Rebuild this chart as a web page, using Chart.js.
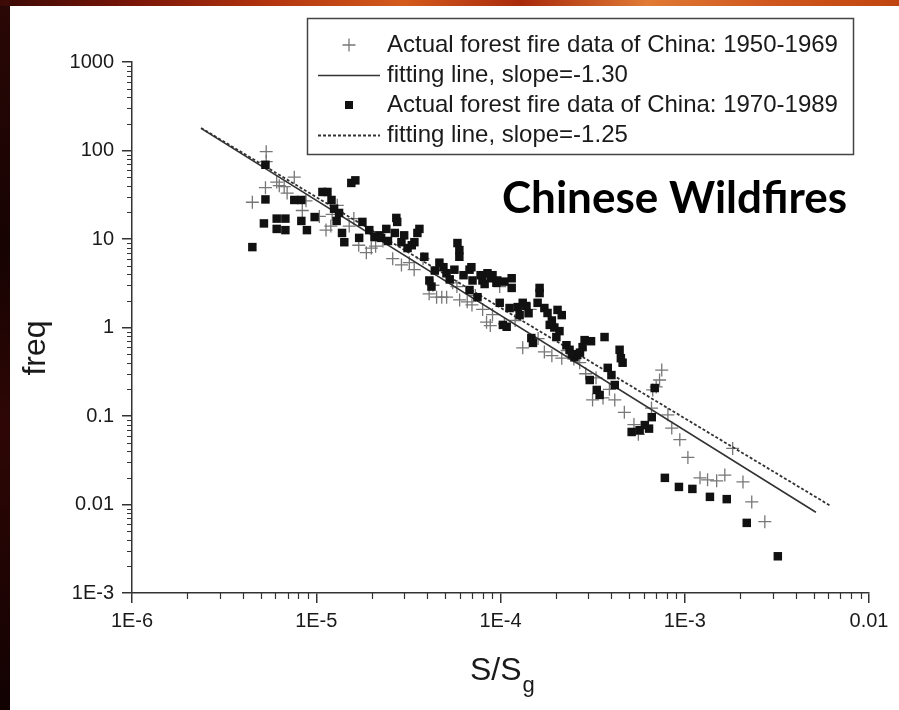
<!DOCTYPE html>
<html>
<head>
<meta charset="utf-8">
<title>Chinese Wildfires</title>
<script src="https://cdn.jsdelivr.net/npm/chart.js@4.4.0/dist/chart.umd.min.js"></script>
<style>
  html, body { margin: 0; padding: 0; }
  body {
    width: 899px; height: 710px; position: relative; overflow: hidden;
    background: linear-gradient(180deg, #2a0806 0%, #160302 35%, #2e0705 60%, #120202 100%);
  }
  #flames {
    position: absolute; left: 0; top: 0; width: 899px; height: 6px;
    background: linear-gradient(90deg, #3b0a06 0%, #7a1608 15%, #b3340f 30%, #d45a1c 45%, #a82a0c 58%, #e07a35 72%, #d0581e 85%, #c0440f 100%);
  }
  #panel { position: absolute; left: 10px; top: 6px; width: 889px; height: 704px; background: #fff; }
</style>
</head>
<body>
<div id="flames"></div>
<div id="panel"><canvas id="fireChart" width="889" height="704"></canvas></div>
<script>
const ctx = document.getElementById("fireChart");

// forest fire records 1950-1969 (drawn as crosses)
const size50to69 = [
  4.5e-6, 5.35e-6, 5.35e-6, 5.3e-6, 6.1e-6, 6.3e-6, 6.7e-6, 7.6e-6, 6.95e-6, 8.4e-6,
  8.8e-6, 1.04e-5, 1.13e-5, 1.22e-5, 1.3e-5, 1.51e-5, 1.6e-5, 1.87e-5, 1.99e-5, 2.1e-5,
  2.3e-5, 2.9e-5, 3.4e-5, 3.8e-5, 4.1e-5, 4.5e-5, 4.8e-5, 5.1e-5, 5.5e-5, 5.8e-5,
  6.0e-5, 6.6e-5, 7.3e-5, 8.0e-5, 8.4e-5, 8.8e-5, 9.9e-5, 9.05e-5, 1.05e-4, 1.32e-4,
  1.45e-4, 1.73e-4, 1.9e-4, 2.15e-4, 2.5e-4, 2.69e-4, 2.9e-4, 3.16e-4, 3.6e-4, 4.17e-4,
  4.7e-4, 5.3e-4, 5.6e-4, 6.6e-4, 6.7e-4, 7.0e-4, 7.3e-4, 7.5e-4, 8.1e-4, 8.5e-4,
  9.4e-4, 1.04e-3, 1.21e-3, 1.33e-3, 1.49e-3, 1.65e-3, 1.82e-3, 2.07e-3, 2.31e-3, 2.72e-3,
  1.2e-5, 1.7e-5, 2.6e-5, 3.2e-5, 4.3e-5, 7.0e-5, 1.2e-4, 1.6e-4, 2.3e-4, 3.3e-4, 3.9e-4
];
const freq50to69 = [
  26, 97, 75, 38, 44, 40, 39, 50, 33, 21,
  27, 18, 12.6, 19, 24, 14, 17, 7.0, 7.9, 8.3,
  9.5, 5.1, 4.5, 6.0, 2.4, 2.2, 2.2, 2.2, 3.2, 2.9,
  2.05, 1.95, 2.3, 1.6, 1.15, 1.05, 2.9, 1.4, 1.1, 0.59,
  1.6, 0.53, 0.48, 0.45, 0.44, 0.40, 0.30, 0.152, 0.16, 0.152,
  0.11, 0.08, 0.062, 0.123, 0.197, 0.213, 0.255, 0.33, 0.103, 0.073,
  0.054, 0.034, 0.020, 0.019, 0.0185, 0.0215, 0.043, 0.018, 0.0107, 0.0064,
  14, 8.5, 6.0, 5.4, 3.0, 1.8, 1.2, 0.75, 0.55, 0.27, 0.2
];

// forest fire records 1970-1989 (drawn as filled squares)
const size70to89 = [
  4.5e-6, 5.3e-6, 5.3e-6, 5.2e-6, 6.1e-6, 6.8e-6, 6.1e-6, 6.8e-6, 7.6e-6, 8.3e-6,
  8.3e-6, 8.9e-6, 9.8e-6, 1.08e-5, 1.15e-5, 1.21e-5, 1.25e-5, 1.33e-5, 1.29e-5, 1.38e-5,
  1.42e-5, 1.55e-5, 1.63e-5, 1.71e-5, 1.78e-5, 1.94e-5, 2.07e-5, 2.25e-5, 2.4e-5, 2.72e-5,
  2.75e-5, 2.67e-5, 2.9e-5, 3.13e-5, 3.41e-5, 3.54e-5, 3.63e-5, 3.86e-5, 4.11e-5, 4.22e-5,
  4.66e-5, 5.09e-5, 5.62e-5, 5.84e-5, 5.98e-5, 5.98e-5, 6.79e-5, 6.95e-5, 7.05e-5, 7.5e-5,
  7.98e-5, 8.5e-5, 8.9e-5, 9.5e-5, 6.79e-5, 9.05e-5, 9.6e-5, 1.15e-4, 1.15e-4, 9.9e-5,
  1.12e-4, 1.24e-4, 1.32e-4, 1.27e-4, 1.03e-4, 1.08e-4, 1.47e-4, 1.5e-4, 1.63e-4, 1.63e-4,
  1.59e-4, 1.73e-4, 1.8e-4, 2.04e-4, 2.15e-4, 1.85e-4, 1.96e-4, 2.09e-4, 2.01e-4, 2.28e-4,
  2.37e-4, 2.52e-4, 2.61e-4, 2.86e-4, 2.79e-4, 3.67e-4, 4.43e-4, 4.5e-4, 3.82e-4, 4.0e-4,
  3.05e-4, 3.33e-4, 3.45e-4, 4.17e-4, 6.87e-4, 6.62e-4, 6.07e-4, 5.69e-4, 5.15e-4, 7.8e-4,
  9.3e-4, 1.1e-3, 1.37e-3, 1.69e-3, 2.17e-3, 3.2e-3,
  2.2e-5, 2.45e-5, 3.0e-5, 3.3e-5, 4.4e-5, 4.9e-5, 5.3e-5, 6.3e-5, 7.8e-5, 8.2e-5,
  1.05e-4, 1.38e-4, 1.42e-4, 1.9e-4, 2.45e-4, 2.7e-4, 3.1e-4, 4.6e-4, 6.4e-4
];
const freq70to89 = [
  8.1, 69, 28, 15, 17, 17, 13, 12.6, 27.6, 27.6,
  16, 12.6, 17.7, 34, 34, 27.6, 22, 19.7, 16, 11.7,
  9.2, 43, 46, 10.3, 15.6, 12.6, 10.5, 10.3, 13, 17.3,
  15.6, 11.7, 9.2, 7.9, 9.2, 11.7, 13, 6.3, 3.4, 2.9,
  5.4, 4.1, 4.5, 9.0, 7.5, 6.3, 4.5, 4.8, 3.4, 2.2,
  3.4, 4.1, 3.6, 3.2, 2.65, 3.9, 3.4, 3.6, 2.8, 1.9,
  1.66, 1.7, 1.9, 1.38, 1.07, 1.02, 0.76, 0.67, 2.8, 2.45,
  1.9, 1.66, 1.46, 1.58, 1.38, 1.07, 1.0, 0.91, 0.78, 0.63,
  0.56, 0.46, 0.49, 0.72, 0.6, 0.78, 0.56, 0.45, 0.35, 0.29,
  0.255, 0.197, 0.173, 0.224, 0.207, 0.097, 0.079, 0.069, 0.066, 0.020,
  0.0158, 0.015, 0.0122, 0.0115, 0.0062, 0.0026,
  11, 9.5, 11, 8.5, 4.4, 4.8, 3.5, 3.9, 3.9, 3.1,
  3.3, 1.75, 1.45, 1.2, 0.5, 0.52, 0.7, 0.4, 0.072
];

// power-law fits: slope, start point, end size
const fitSlopes = [-1.30, -1.25];
const fitStartSize = 2.37e-6;
const fitStartFreq = [178, 180];
const fitEndSize = [5.15e-3, 6.2e-3];

// axis ticks
const xTickValues = [1e-6, 1e-5, 1e-4, 1e-3, 0.01];
const xTickLabels = ["1E-6", "1E-5", "1E-4", "1E-3", "0.01"];
const yTickValues = [1e-3, 0.01, 0.1, 1, 10, 100, 1000];
const yTickLabels = ["1E-3", "0.01", "0.1", "1", "10", "100", "1000"];

const chartTitle = "Chinese Wildfires";
const FONT = "'Liberation Sans', Arial, sans-serif";

const toPoints = (xs, ys) => xs.map((x, i) => ({ x: x, y: ys[i] }));
const fitPoints = (k) => {
  const y1 = fitStartFreq[k] * Math.pow(fitEndSize[k] / fitStartSize, fitSlopes[k]);
  return [{ x: fitStartSize, y: fitStartFreq[k] }, { x: fitEndSize[k], y: y1 }];
};

// minor ticks, axis titles, boxed legend and the headline
const decorations = {
  id: "decorations",
  afterDraw(chart) {
    const c = chart.ctx;
    const xs = chart.scales.x;
    const ys = chart.scales.y;
    const area = chart.chartArea;
    c.save();

    c.strokeStyle = "#333";
    c.lineWidth = 1.2;
    c.beginPath();
    yTickValues.slice(0, -1).forEach((d) => {
      for (let m = 2; m < 10; m++) {
        const py = Math.round(ys.getPixelForValue(m * d)) + 0.5;
        c.moveTo(area.left, py);
        c.lineTo(area.left - 5, py);
      }
    });
    xTickValues.slice(0, -1).forEach((d) => {
      for (let m = 2; m < 10; m++) {
        const px = Math.round(xs.getPixelForValue(m * d)) + 0.5;
        c.moveTo(px, area.bottom);
        c.lineTo(px, area.bottom + 6);
      }
    });
    c.stroke();

    // axis titles
    c.fillStyle = "#1a1a1a";
    c.font = "32px " + FONT;
    c.save();
    c.translate(26, 342);
    c.rotate(-Math.PI / 2);
    c.textAlign = "center";
    c.textBaseline = "middle";
    c.fillText("freq", 0, 0);
    c.restore();
    c.textAlign = "left";
    c.textBaseline = "alphabetic";
    c.fillText("S/S", 460, 674);
    const wS = c.measureText("S/S").width;
    c.font = "22px " + FONT;
    c.fillText("g", 460 + wS + 1, 686);

    // legend box
    c.lineWidth = 1.5;
    c.strokeStyle = "#444";
    c.strokeRect(297.5, 12.5, 546, 136);
    c.font = "24px " + FONT;
    c.textBaseline = "middle";
    chart.data.datasets.forEach((ds, i) => {
      const cy = 39 + i * 30;
      c.save();
      if (ds.showLine) {
        c.strokeStyle = ds.borderColor;
        c.lineWidth = ds.borderWidth;
        c.setLineDash(ds.borderDash || []);
        c.beginPath();
        c.moveTo(308, cy + 0.5);
        c.lineTo(370, cy + 0.5);
        c.stroke();
      } else if (ds.pointStyle === "cross") {
        c.strokeStyle = ds.borderColor;
        c.lineWidth = ds.borderWidth;
        c.beginPath();
        c.moveTo(339 - 6.5, cy);
        c.lineTo(339 + 6.5, cy);
        c.moveTo(339, cy - 6.5);
        c.lineTo(339, cy + 6.5);
        c.stroke();
      } else {
        c.fillStyle = ds.backgroundColor;
        c.fillRect(335, cy - 4, 8, 8);
      }
      c.restore();
      c.fillText(ds.label, 377, cy);
    });

    // headline, fitted to its slot
    c.font = "bold 44px Lato, 'Open Sans', sans-serif";
    c.fillStyle = "#000";
    c.textBaseline = "alphabetic";
    const w = c.measureText(chartTitle).width;
    c.translate(492, 207);
    c.scale(345 / w, 1);
    c.fillText(chartTitle, 0, 0);
    c.restore();
  },
};

const axisStyle = (values, labels, min, max) => ({
  type: "logarithmic",
  min: min,
  max: max,
  afterBuildTicks: (scale) => {
    scale.ticks = values.map((v) => ({ value: v, major: true }));
  },
  ticks: {
    autoSkip: false,
    maxRotation: 0,
    color: "#1a1a1a",
    font: { family: FONT, size: 20 },
    callback: (v, i) => labels[i],
  },
  grid: {
    display: true,
    drawOnChartArea: false,
    drawTicks: true,
    tickLength: 10,
    color: "#333",
    lineWidth: 1.5,
  },
  border: { display: true, color: "#333", width: 1.5 },
});

const xAxis = axisStyle(xTickValues, xTickLabels, 1e-6, 0.01);
xAxis.ticks.padding = 6;
xAxis.afterFit = (s) => { s.height = 117; };
const yAxis = axisStyle(yTickValues, yTickLabels, 1e-3, 1000);
yAxis.ticks.padding = 8;
yAxis.afterFit = (s) => { s.width = 122; };

const myChart = new Chart(ctx, {
  type: "scatter",
  data: {
    datasets: [
      {
        label: "Actual forest fire data of China: 1950-1969",
        data: toPoints(size50to69, freq50to69),
        pointStyle: "cross",
        pointRadius: 6.5,
        borderColor: "#777",
        backgroundColor: "#777",
        borderWidth: 1.3,
        order: 3,
      },
      {
        label: "fitting line, slope=" + fitSlopes[0].toFixed(2),
        data: fitPoints(0),
        showLine: true,
        pointRadius: 0,
        borderColor: "#333",
        borderWidth: 1.6,
        order: 2,
      },
      {
        label: "Actual forest fire data of China: 1970-1989",
        data: toPoints(size70to89, freq70to89),
        pointStyle: "rect",
        pointRadius: 6,
        borderWidth: 0,
        borderColor: "#111",
        backgroundColor: "#111",
        order: 1,
      },
      {
        label: "fitting line, slope=" + fitSlopes[1].toFixed(2),
        data: fitPoints(1),
        showLine: true,
        pointRadius: 0,
        borderColor: "#333",
        borderWidth: 1.8,
        borderDash: [3, 2],
        order: 2,
      },
    ],
  },
  options: {
    responsive: false,
    devicePixelRatio: 1,
    animation: false,
    layout: { padding: { left: 0, top: 56, right: 30, bottom: 0 } },
    scales: { x: xAxis, y: yAxis },
    plugins: {
      legend: { display: false },
      tooltip: { enabled: false },
    },
  },
  plugins: [decorations],
});
</script>
</body>
</html>
